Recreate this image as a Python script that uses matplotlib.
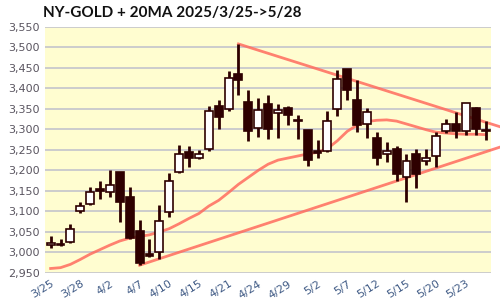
import matplotlib.pyplot as plt
import numpy as np

dates = ["3/25", "3/26", "3/27", "3/28", "3/31", "4/1", "4/2", "4/3", "4/4", "4/7",
         "4/8", "4/9", "4/10", "4/11", "4/14", "4/15", "4/16", "4/17", "4/21", "4/22",
         "4/23", "4/24", "4/25", "4/28", "4/29", "4/30", "5/1", "5/2", "5/5", "5/6",
         "5/7", "5/8", "5/9", "5/12", "5/13", "5/14", "5/15", "5/16", "5/19", "5/20",
         "5/21", "5/22", "5/23", "5/27", "5/28"]
opens = [3018, 3021, 3026, 3100, 3119, 3154, 3148, 3196, 3135, 3052,
         2996, 3000, 3099, 3197, 3244, 3229, 3251, 3357, 3349, 3435,
         3367, 3304, 3361, 3339, 3353, 3323, 3298, 3247, 3248, 3349,
         3447, 3371, 3312, 3278, 3241, 3252, 3183, 3241, 3222, 3236,
         3296, 3314, 3296, 3353, 3299]
highs = [3040, 3032, 3069, 3123, 3159, 3173, 3200, 3197, 3160, 3080,
         3034, 3115, 3194, 3262, 3259, 3250, 3357, 3371, 3442, 3508,
         3396, 3376, 3383, 3361, 3357, 3336, 3299, 3275, 3344, 3444,
         3448, 3420, 3352, 3293, 3269, 3259, 3241, 3253, 3251, 3294,
         3325, 3343, 3364, 3354, 3321]
lows = [3012, 3016, 3024, 3097, 3115, 3130, 3136, 3075, 3033, 2969,
        2990, 2985, 3087, 3194, 3209, 3227, 3248, 3300, 3345, 3383,
        3272, 3282, 3277, 3279, 3311, 3276, 3211, 3231, 3245, 3333,
        3371, 3294, 3280, 3214, 3221, 3174, 3124, 3157, 3213, 3209,
        3290, 3280, 3287, 3285, 3275]
closes = [3022, 3019, 3058, 3113, 3147, 3150, 3164, 3123, 3035, 2975,
          2992, 3076, 3174, 3241, 3229, 3239, 3344, 3331, 3424, 3421,
          3297, 3347, 3300, 3346, 3336, 3321, 3225, 3243, 3320, 3422,
          3395, 3310, 3341, 3229, 3247, 3190, 3223, 3190, 3231, 3283,
          3312, 3296, 3363, 3300, 3297]
ma20 = [2961, 2963, 2971, 2983, 2996, 3007, 3018, 3028, 3035, 3039,
        3043, 3050, 3058, 3070, 3083, 3095, 3113, 3127, 3146, 3166,
        3183, 3200, 3215, 3225, 3230, 3235, 3240, 3244, 3253, 3272,
        3295, 3310, 3319, 3322, 3323, 3320, 3313, 3306, 3299, 3293,
        3291, 3289, 3288, 3288, 3287]
resist_x = [19, 45.5]
resist_y = [3508, 3306]
support_x = [9, 45.5]
support_y = [2969, 3257]
yticks = list(range(2950, 3551, 50))

line_color = "#ff6b5e"
dark = "#2e0000"

fig = plt.figure(figsize=(5, 3), dpi=100)
ax = fig.add_axes([0.09, 0.09, 0.891, 0.821])
ax.set_facecolor("#fffdd0")
for s in ax.spines.values():
    s.set_visible(False)

x = np.arange(len(dates))
ax.plot(x, ma20, color=line_color, lw=2, alpha=0.85, zorder=2)
ax.plot(resist_x, resist_y, color=line_color, lw=2, alpha=0.85, zorder=2, clip_on=False)
ax.plot(support_x, support_y, color=line_color, lw=2, alpha=0.85, zorder=2, clip_on=False)

w = 0.8
for i in range(len(dates)):
    o, h, l, c = opens[i], highs[i], lows[i], closes[i]
    ax.vlines(i, l, h, color=dark, lw=2, zorder=3)
    up = c >= o
    bottom = min(o, c)
    height = max(abs(c - o), 1.5)
    ax.bar(i, height, bottom=bottom, width=w, color="white" if up else dark,
           edgecolor=dark, linewidth=1.2, zorder=4)

ax.set_xlim(-0.57, 44.5)
ax.set_ylim(2950, 3550)
ax.set_yticks(yticks)
ax.set_yticklabels([f"{v:,}" for v in yticks], color="#5a5560", fontsize=8)
ax.yaxis.grid(True, color="#c8c8cc", lw=1.3)
ax.set_axisbelow(True)
ax.set_xticks(x[::3])
ax.set_xticklabels(dates[::3], rotation=32, ha="right", color="#3f5a85", fontsize=8,
                   rotation_mode="anchor")
ax.tick_params(length=0, pad=4)

fig.text(0.086, 0.958, "NY-GOLD + 20MA 2025/3/25->5/28", fontsize=11,
         fontweight="bold", family="Lato", va="center", ha="left", color="#111111")

fig.savefig("out.png", dpi=100)
